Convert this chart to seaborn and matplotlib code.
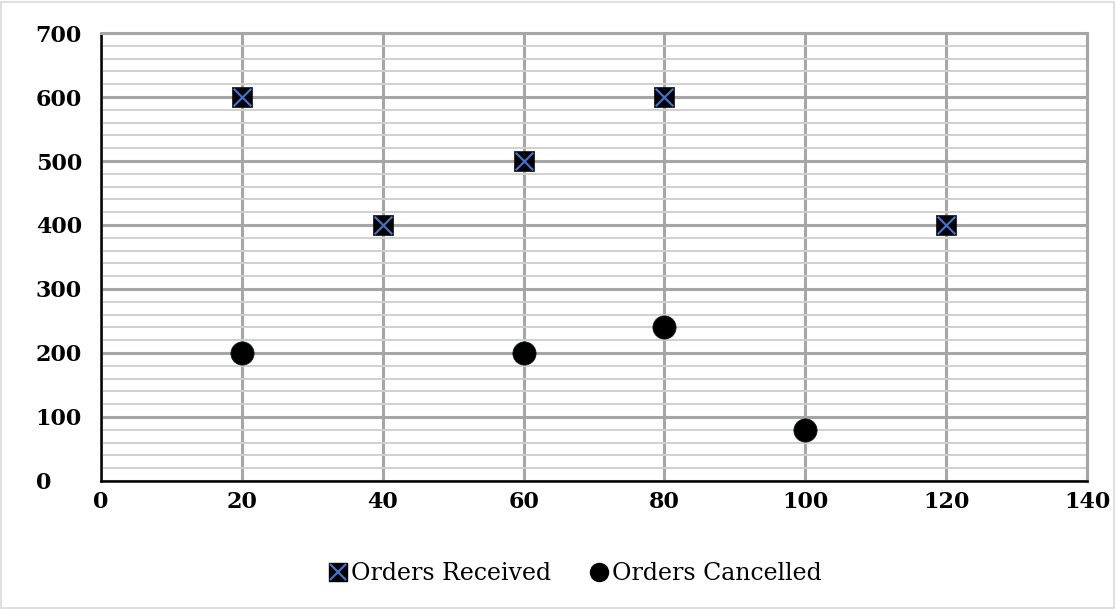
import matplotlib
matplotlib.use("Agg")
import matplotlib.pyplot as plt
import seaborn as sns
import pandas as pd
from matplotlib.lines import Line2D
from matplotlib.ticker import MultipleLocator

received_x = [20, 40, 60, 80, 120]
received_y = [600, 400, 500, 600, 400]
cancelled_x = [20, 60, 80, 100]
cancelled_y = [200, 200, 240, 80]

rec = pd.DataFrame({"x": received_x, "y": received_y})
can = pd.DataFrame({"x": cancelled_x, "y": cancelled_y})

sns.set_style("white")
plt.rcParams["font.family"] = ["DejaVu Serif"]
plt.rcParams["text.color"] = "black"
plt.rcParams["xtick.color"] = "black"
plt.rcParams["ytick.color"] = "black"

fig = plt.figure(figsize=(11.16, 6.09), dpi=100)
ax = fig.add_axes([0.0905, 0.2102, 0.8835, 0.7356])

sns.scatterplot(data=rec, x="x", y="y", marker="s", s=210, color="black",
                edgecolor="#0b0b0b", linewidth=0.5, ax=ax, zorder=3)
sns.scatterplot(data=rec, x="x", y="y", marker="x", s=160, color="#4472C4",
                linewidth=1.6, ax=ax, zorder=4)
sns.scatterplot(data=can, x="x", y="y", marker="o", s=280, color="black",
                edgecolor="#0b1a12", linewidth=0.5, ax=ax, zorder=3)

ax.set_xlim(0, 140)
ax.set_ylim(0, 700)
ax.xaxis.set_major_locator(MultipleLocator(20))
ax.yaxis.set_major_locator(MultipleLocator(100))
ax.yaxis.set_minor_locator(MultipleLocator(20))
ax.grid(which="major", color="#A6A6A6", linewidth=2.2, zorder=0)
ax.grid(which="minor", axis="y", color="#D0D0D0", linewidth=1.4, zorder=0)
ax.set_axisbelow(True)

for side in ["top", "right"]:
    ax.spines[side].set_color("#A6A6A6")
    ax.spines[side].set_linewidth(2.2)
for side in ["left", "bottom"]:
    ax.spines[side].set_color("black")
    ax.spines[side].set_linewidth(1.8)

ax.tick_params(axis="both", which="both", length=0, labelsize=16)
ax.tick_params(axis="x", pad=7)
for lab in ax.get_xticklabels() + ax.get_yticklabels():
    lab.set_fontweight("bold")
for lab in ax.get_yticklabels():
    lab.set_horizontalalignment("left")
ax.tick_params(axis="y", pad=47)
ax.set_xlabel("")
ax.set_ylabel("")

h1 = (Line2D([], [], marker="s", color="black", linestyle="none", markersize=13),
      Line2D([], [], marker="x", color="#4472C4", linestyle="none", markersize=11,
             markeredgewidth=1.6))
h2 = Line2D([], [], marker="o", color="black", linestyle="none", markersize=13)
fig.legend([h1, h2], ["Orders Received", "Orders Cancelled"],
           loc="center", bbox_to_anchor=(0.515, 0.058), ncol=2, frameon=False,
           fontsize=17, handletextpad=0.1, columnspacing=1.6, handlelength=0.9)

fig.patches.append(plt.Rectangle((0.001, 0.002), 0.997, 0.995, transform=fig.transFigure,
                                 fill=False, edgecolor="#D9D9D9", linewidth=1.2))

fig.savefig("out.png", dpi=100)
